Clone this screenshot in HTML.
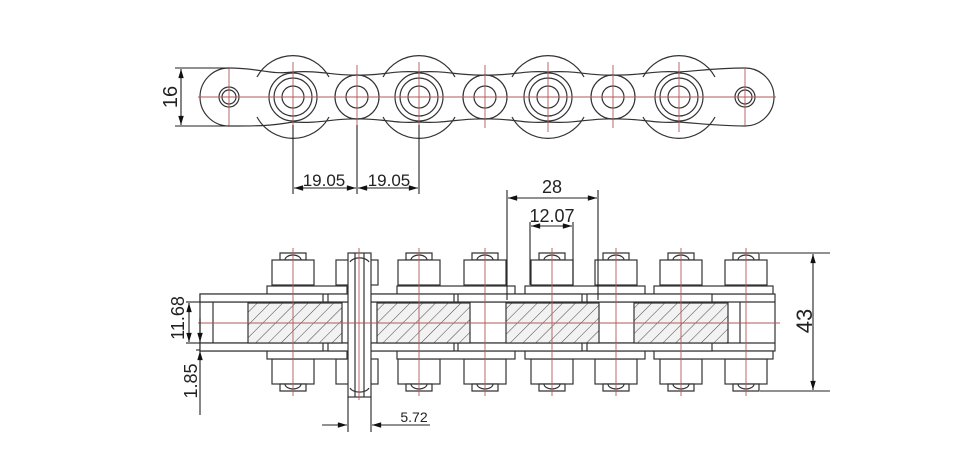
<!DOCTYPE html>
<html><head><meta charset="utf-8"><style>
html,body{margin:0;padding:0;background:#fff;width:969px;height:466px;overflow:hidden}
svg{display:block}
text{font-family:"Liberation Sans",sans-serif;fill:#222}
</style></head><body>
<svg width="969" height="466" viewBox="0 0 969 466" xmlns="http://www.w3.org/2000/svg">
<defs>
<pattern id="h" width="9" height="9" patternUnits="userSpaceOnUse" patternTransform="rotate(45)">
<rect width="9" height="9" fill="#f2f2f2"/><line x1="0" y1="0" x2="0" y2="9" stroke="#333" stroke-width="0.9"/></pattern>
<marker id="a" viewBox="0 0 10 6" refX="10" refY="3" markerWidth="9" markerHeight="5" orient="auto-start-reverse"><path d="M0,0L10,3L0,6z" fill="#111"/></marker>
<g id="big" fill="none" stroke="#333" stroke-width="1.2">
<path d="M-36,-20 A41,41 0 0 1 36,-20" /><path d="M-36,20 A41,41 0 0 0 36,20"/>
<circle r="24"/><circle r="19"/><circle r="11"/>
</g>
<g id="small" fill="none" stroke="#333" stroke-width="1.2">
<circle r="22"/><circle r="11"/>
</g>
<g id="rol" fill="#fff" stroke="#333" stroke-width="1.2">
<path d="M-13,253 h26 v7 h-26z"/><path d="M-8,260 A8,5 0 0 1 8,260" fill="none"/>
<rect x="-21" y="260" width="42" height="25"/>
<rect x="-21" y="359" width="42" height="25"/>
<path d="M-13,384 h26 v7 h-26z"/><path d="M-8,384 A8,5 0 0 0 8,384" fill="none"/>
</g>
</defs>

<!-- TOP VIEW -->
<g fill="none" stroke="#333" stroke-width="1.2">
<path d="M229,68 C260,68 270,75 293,72 C320,70 335,76 357,75 C380,76 395,70 419,72 C445,70 460,76 485,75 C510,76 525,70 548,72 C575,70 590,76 613,75 C640,76 655,70 679,72 C705,70 720,68 745,68 A29,29 0 0 1 745,126 C720,126 705,124 679,122 C655,124 640,118 613,119 C590,118 575,124 548,122 C525,124 510,118 485,119 C460,118 445,124 419,122 C395,124 380,118 357,119 C335,118 320,124 293,122 C270,126 260,126 229,126 A29,29 0 0 1 229,68Z" fill="#fff"/>
<circle cx="229" cy="97" r="10"/><circle cx="229" cy="97" r="7"/>
<circle cx="745" cy="97" r="10"/><circle cx="745" cy="97" r="7"/>
</g>
<use href="#big" x="293" y="97"/><use href="#big" x="419" y="97"/><use href="#big" x="548" y="97"/><use href="#big" x="679" y="97"/>
<use href="#small" x="357" y="97"/><use href="#small" x="485" y="97"/><use href="#small" x="613" y="97"/>
<g stroke="#b05a5a" stroke-width="0.9">
<line x1="198" y1="97" x2="776" y2="97"/>
<line x1="229" y1="68" x2="229" y2="126"/><line x1="745" y1="68" x2="745" y2="126"/>
<line x1="293" y1="62" x2="293" y2="132"/><line x1="357" y1="65" x2="357" y2="128"/><line x1="419" y1="62" x2="419" y2="132"/>
<line x1="485" y1="65" x2="485" y2="128"/><line x1="548" y1="62" x2="548" y2="132"/><line x1="613" y1="65" x2="613" y2="128"/><line x1="679" y1="62" x2="679" y2="132"/>
</g>
<g stroke="#222" stroke-width="1.1" fill="none">
<line x1="175" y1="68" x2="229" y2="68"/><line x1="175" y1="126" x2="229" y2="126"/>
<line x1="181" y1="69" x2="181" y2="125" marker-start="url(#a)" marker-end="url(#a)"/>
<line x1="293" y1="125" x2="293" y2="194"/><line x1="357" y1="125" x2="357" y2="194"/><line x1="419" y1="125" x2="419" y2="194"/>
<line x1="294" y1="188" x2="356" y2="188" marker-start="url(#a)" marker-end="url(#a)"/>
<line x1="358" y1="188" x2="418" y2="188" marker-start="url(#a)" marker-end="url(#a)"/>
</g>
<text x="177" y="97" font-size="20" transform="rotate(-90 177 97)" text-anchor="middle">16</text>
<text x="324" y="186" font-size="17" text-anchor="middle">19.05</text>
<text x="389" y="186" font-size="17" text-anchor="middle">19.05</text>

<!-- BOTTOM VIEW -->
<g stroke="#333" stroke-width="1.2" fill="#fff">
<rect x="200" y="294" width="575" height="57"/>
<line x1="213" y1="302" x2="213" y2="343"/><line x1="200" y1="302" x2="775" y2="302"/><line x1="200" y1="343" x2="775" y2="343"/>
<line x1="740" y1="302" x2="740" y2="343"/>
</g>
<use href="#rol" x="293"/><use href="#rol" x="419"/><use href="#rol" x="485"/><use href="#rol" x="552"/><use href="#rol" x="616"/><use href="#rol" x="681"/><use href="#rol" x="746"/>
<g stroke="#333" stroke-width="1.2" fill="#fff">
<rect x="336" y="260" width="42" height="25"/><rect x="336" y="359" width="42" height="25"/>
<rect x="267" y="286" width="80" height="8"/><rect x="397" y="286" width="118" height="8"/><rect x="525" y="286" width="120" height="8"/><rect x="654" y="286" width="119" height="8"/>
<rect x="267" y="351" width="80" height="8"/><rect x="397" y="351" width="118" height="8"/><rect x="525" y="351" width="120" height="8"/><rect x="654" y="351" width="119" height="8"/>
<rect x="200" y="294" width="123" height="8"/><rect x="328" y="294" width="126" height="8"/><rect x="458" y="294" width="124" height="8"/><rect x="587" y="294" width="125" height="8"/>
<rect x="200" y="343" width="123" height="8"/><rect x="328" y="343" width="126" height="8"/><rect x="458" y="343" width="124" height="8"/><rect x="587" y="343" width="125" height="8"/>
<rect x="248" y="303" width="94" height="40" fill="url(#h)"/><rect x="377" y="303" width="93" height="40" fill="url(#h)"/>
<rect x="506" y="303" width="93" height="40" fill="url(#h)"/><rect x="634" y="303" width="94" height="40" fill="url(#h)"/>
<rect x="348" y="253" width="23" height="144"/>
<line x1="355" y1="253" x2="355" y2="397"/><line x1="364" y1="253" x2="364" y2="397"/>
<path d="M350,262 A10,6 0 0 1 369,262 M350,388 A10,6 0 0 0 369,388" fill="none"/>
</g>
<g stroke="#b05a5a" stroke-width="0.9">
<line x1="198" y1="323" x2="780" y2="323"/>
<line x1="293" y1="248" x2="293" y2="396"/><line x1="359" y1="248" x2="359" y2="400"/><line x1="419" y1="248" x2="419" y2="396"/><line x1="485" y1="248" x2="485" y2="396"/>
<line x1="552" y1="248" x2="552" y2="396"/><line x1="616" y1="248" x2="616" y2="396"/><line x1="681" y1="248" x2="681" y2="396"/><line x1="746" y1="248" x2="746" y2="396"/>
</g>
<g stroke="#222" stroke-width="1.1" fill="none">
<line x1="507" y1="190" x2="507" y2="300"/><line x1="598" y1="190" x2="598" y2="300"/>
<line x1="508" y1="198" x2="597" y2="198" marker-start="url(#a)" marker-end="url(#a)"/>
<line x1="530" y1="222" x2="530" y2="285"/><line x1="573" y1="222" x2="573" y2="285"/>
<line x1="531" y1="226" x2="572" y2="226" marker-start="url(#a)" marker-end="url(#a)"/>
<line x1="760" y1="253" x2="830" y2="253"/><line x1="760" y1="391" x2="830" y2="391"/>
<line x1="813" y1="254" x2="813" y2="390" marker-start="url(#a)" marker-end="url(#a)"/>
<line x1="186" y1="302" x2="200" y2="302"/><line x1="186" y1="343" x2="200" y2="343"/><line x1="196" y1="350" x2="200" y2="350"/>
<line x1="189" y1="303" x2="189" y2="342" marker-start="url(#a)" marker-end="url(#a)"/>
<line x1="200" y1="318" x2="200" y2="342" marker-end="url(#a)"/>
<line x1="200" y1="415" x2="200" y2="351" marker-end="url(#a)"/>
<line x1="348" y1="397" x2="348" y2="432"/><line x1="371" y1="397" x2="371" y2="432"/>
<line x1="322" y1="425" x2="347" y2="425" marker-end="url(#a)"/>
<line x1="430" y1="425" x2="372" y2="425" marker-end="url(#a)"/>
</g>
<text x="552" y="193" font-size="18" text-anchor="middle">28</text>
<text x="552" y="222" font-size="18" text-anchor="middle">12.07</text>
<text x="184" y="318" font-size="18" transform="rotate(-90 184 318)" text-anchor="middle">11.68</text>
<text x="197" y="381" font-size="18" transform="rotate(-90 197 381)" text-anchor="middle">1.85</text>
<text x="812" y="321" font-size="22" transform="rotate(-90 812 321)" text-anchor="middle">43</text>
<text x="414" y="422" font-size="14" text-anchor="middle">5.72</text>
</svg>
</body></html>
